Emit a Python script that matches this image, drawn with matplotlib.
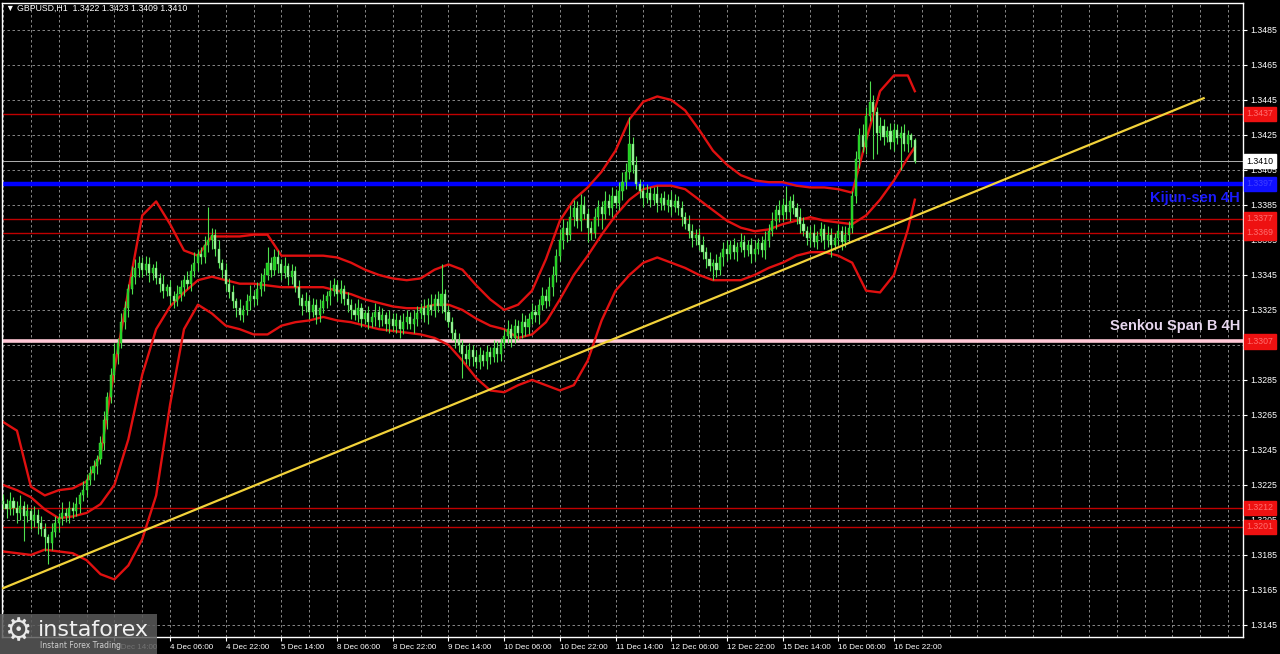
import matplotlib.pyplot as plt
from matplotlib.patches import Rectangle

# GBPUSD H1 candles. Prices are in pips above 1.3000 (214 -> 1.3214)
first_open = 216
closes = [214, 211, 216, 212, 209, 213, 207, 210, 205, 208, 203,
          200, 195, 192, 198,
          203, 206, 209, 207, 212, 210,
          214, 219, 222, 228, 232, 236, 240, 249, 262,
          275, 288, 300, 306, 318, 326, 337, 344,
          349, 352, 348, 351, 346, 349, 343,
          340, 336, 338, 333, 330, 334,
          338, 342, 340, 347, 352, 357, 355, 362, 365, 368,
          360, 352, 348, 340, 335, 330, 326, 322,
          325, 330, 333, 331, 337, 341,
          345, 352, 348, 355, 351, 346, 350, 344, 347,
          338, 332, 327, 330, 324, 328, 322, 326, 330,
          333, 336, 339, 334, 337, 331,
          328, 325, 322, 326, 320, 323, 318, 321, 324, 319, 322, 317, 320,
          316, 319, 314, 318, 321, 317, 320, 323, 326,
          322, 328, 325, 331, 327, 334, 324,
          318, 312, 308, 305,
          300, 297, 302, 298, 295, 299, 296, 301, 298, 303, 300, 306,
          310, 314, 309, 316, 312, 318, 315, 320,
          324, 322, 328, 333, 330, 338, 345,
          356, 365, 372, 368, 378, 383,
          376, 385, 380, 372, 369, 378, 384,
          380, 387, 383, 390, 386, 393, 398, 404,
          420, 408, 397, 393, 389,
          392, 388, 391, 386, 389, 385, 388, 384, 387, 383,
          378, 374, 370, 366, 368, 362,
          358, 354, 350, 352, 348, 355,
          360, 357, 362, 358, 361, 364, 359, 362, 357, 360, 363, 359, 365, 370,
          376, 382, 379, 385, 381, 387, 383, 378, 374,
          370, 366, 369, 364, 367, 371, 365, 368, 362, 366, 370, 364, 368, 372,
          390, 411, 425, 418, 436, 444, 438, 426,
          430, 424, 427, 421, 428, 423, 426, 420, 425, 422, 410]

upper_wick = [4, 3, 5, 2, 4, 6, 3, 4, 2, 5, 3, 4, 3, 2, 5, 4, 3, 6, 3, 4,
              3, 4, 2, 5, 3, 4, 3, 2, 4, 5, 3, 4, 6, 3, 5, 4, 3, 6, 5, 4,
              3, 5, 4, 2, 4, 3, 5, 2, 4, 3, 5, 4, 3, 5, 4, 6, 3, 4, 5, 19,
              4, 3, 5, 2, 4, 3, 4, 2, 5, 3, 4, 6, 3, 4, 5, 4, 9, 3, 5, 4,
              3, 5, 2, 4, 3, 4, 2, 5, 3, 4, 3, 5, 4, 3, 6, 4, 3, 5, 2, 4,
              3, 4, 5, 3, 2, 4, 3, 5, 3, 4, 2, 5, 3, 4, 3, 5, 4, 3, 5, 4,
              3, 5, 4, 6, 3, 5, 17, 3, 4, 3, 2, 4, 3, 5, 4, 3, 4, 5, 3, 4,
              3, 5, 4, 3, 4, 5, 3, 4, 3, 5, 4, 3, 5, 4, 3, 5, 4, 6, 5, 4,
              6, 5, 4, 7, 5, 4, 6, 5, 3, 4, 5, 4, 3, 6, 4, 5, 4, 5, 6, 5,
              15, 4, 5, 3, 4, 5, 3, 4, 5, 3, 4, 3, 5, 4, 3, 4, 3, 5, 4, 3,
              4, 5, 3, 4, 2, 5, 3, 4, 5, 3, 4, 3, 5, 4, 3, 4, 5, 3, 4, 5,
              4, 5, 3, 6, 4, 11, 3, 4, 3, 5, 4, 3, 4, 5, 3, 4, 3, 5, 4, 3,
              4, 3, 5, 4, 3, 5, 4, 6, 5, 12, 4, 3, 5, 4, 3, 5, 4, 3, 4, 5, 3, 1, 1]

lower_wick = [3, 5, 3, 4, 6, 4, 14, 3, 5, 4, 6, 4, 8, 12, 4, 3, 5, 4, 3, 4,
              4, 3, 5, 3, 4, 3, 4, 5, 3, 4, 5, 3, 4, 6, 3, 4, 5, 3, 4, 5,
              4, 3, 5, 4, 3, 5, 4, 3, 5, 4, 3, 4, 5, 3, 4, 3, 5, 4, 3, 4,
              5, 4, 3, 5, 4, 3, 4, 5, 3, 4, 3, 5, 4, 3, 4, 5, 3, 4, 3, 5,
              4, 3, 5, 4, 3, 4, 5, 3, 4, 3, 5, 4, 3, 4, 5, 3, 4, 5, 3, 4,
              5, 3, 4, 5, 3, 4, 3, 5, 4, 3, 4, 5, 3, 4, 5, 3, 4, 3, 5, 4,
              3, 4, 5, 3, 4, 3, 4, 5, 3, 4, 5, 4, 14, 3, 4, 5, 3, 4, 3, 5,
              4, 3, 5, 4, 3, 4, 5, 3, 4, 3, 5, 4, 3, 4, 5, 3, 4, 3, 5, 4,
              3, 5, 4, 3, 5, 4, 6, 3, 8, 4, 3, 5, 9, 3, 4, 5, 3, 4, 5, 4,
              4, 5, 3, 4, 5, 3, 4, 3, 5, 4, 3, 4, 5, 3, 4, 5, 3, 4, 5, 4,
              3, 4, 5, 3, 8, 4, 3, 5, 4, 3, 4, 5, 3, 4, 3, 5, 4, 3, 4, 5,
              4, 3, 5, 4, 3, 4, 5, 3, 4, 5, 3, 4, 5, 3, 4, 3, 5, 4, 7, 3,
              4, 5, 3, 4, 3, 4, 5, 3, 4, 3, 27, 12, 4, 5, 3, 4, 5, 3, 18, 4, 5, 4, 1]

# red bands every 4 bars (pips above 1.3000)
band_bars = [0, 4, 8, 12, 16, 20, 24, 28, 32, 36, 40, 44, 48, 52, 56, 60, 64, 68, 72, 76,
             80, 84, 88, 92, 96, 100, 104, 108, 112, 116, 120, 124, 128, 132, 136, 140,
             144, 148, 152, 156, 160, 164, 168, 172, 176, 180, 184, 188, 192, 196, 200,
             204, 208, 212, 216, 220, 224, 228, 232, 236, 240, 244, 248, 252, 256, 260, 262]
band_upper = [261, 256, 224, 219, 222, 223, 227, 242, 291, 336, 379, 387, 374, 359, 356, 367, 367, 367, 368, 368,
              356, 356, 356, 356, 355, 352, 348, 345, 343, 342, 343, 348, 351, 348, 339, 331,
              325, 328, 336, 354, 376, 388, 395, 404, 416, 434, 444, 447, 445, 439, 428,
              416, 408, 402, 399, 398, 398, 396, 395, 395, 394, 392, 422, 450, 459, 459, 450]
band_middle = [225, 222, 218, 211, 206, 207, 209, 214, 225, 251, 288, 314, 327, 335, 342, 344, 342, 340, 340, 339,
               338, 338, 338, 338, 336, 334, 331, 329, 327, 326, 326, 328, 328, 325, 320, 316,
               314, 309, 311, 318, 331, 345, 356, 368, 379, 388, 394, 396, 396, 394, 388,
               382, 376, 372, 370, 371, 374, 376, 378, 376, 375, 374, 379, 388, 399, 412, 418]
band_lower = [187, 186, 185, 188, 187, 186, 182, 174, 171, 179, 194, 219, 271, 314, 328, 323, 316, 314, 311, 311,
              316, 318, 319, 321, 319, 318, 316, 314, 313, 312, 311, 309, 305, 296, 286, 279,
              278, 282, 285, 282, 279, 282, 296, 319, 336, 345, 352, 355, 352, 349, 345,
              342, 342, 342, 345, 349, 352, 356, 358, 358, 356, 352, 336, 335, 345, 371, 388]

trend_bars = [0, 345]
trend_prices = [1.3166, 1.3446]

red_levels = [1.3437, 1.3377, 1.3369, 1.3212, 1.3201]
kijun = 1.3397
senkou_b = 1.3307
last_price = 1.3410

y_ticks = [1.3145, 1.3165, 1.3185, 1.3205, 1.3225, 1.3245, 1.3265, 1.3285, 1.3305,
           1.3325, 1.3345, 1.3365, 1.3385, 1.3405, 1.3425, 1.3445, 1.3465, 1.3485]
# labels every 16 bars; the first ones sit under the logo
x_tick_bars = [32, 48, 64, 80, 96, 112, 128, 144, 160, 176, 192, 208, 224, 240, 256]
x_tick_labels = ['3 Dec 14:00', '4 Dec 06:00', '4 Dec 22:00',
                 '5 Dec 14:00', '8 Dec 06:00', '8 Dec 22:00', '9 Dec 14:00', '10 Dec 06:00',
                 '10 Dec 22:00', '11 Dec 14:00', '12 Dec 06:00', '12 Dec 22:00', '15 Dec 14:00',
                 '16 Dec 06:00', '16 Dec 22:00']
grid_bars = [8 * k for k in range(45)]


def px(p):
    return 1.3 + p / 10000.0


fig = plt.figure(figsize=(12.8, 6.54), dpi=100, facecolor='black')
ax = fig.add_axes([2 / 1280, 17 / 654, 1241 / 1280, 634 / 654])
ax.set_facecolor('black')

# grid
for b in grid_bars:
    ax.axvline(b, color='#9c9c9c', lw=0.6, ls=(0, (3, 3)), zorder=0)
for t in y_ticks:
    ax.axhline(t, color='#9c9c9c', lw=0.6, ls=(0, (3, 3)), zorder=0)

# horizontal levels
for lvl in red_levels:
    ax.axhline(lvl, color='#c00000', lw=1.0, zorder=1)
ax.axhline(last_price, color='#b0b0b0', lw=0.7, zorder=1)
ax.axhline(kijun, color='#0000ff', lw=3.2, zorder=1)
ax.axhline(senkou_b, color='#ffc8d6', lw=2.6, zorder=1)

# bands
ax.plot(band_bars, [px(v) for v in band_upper], color='#e01010', lw=1.7, zorder=2)
ax.plot(band_bars, [px(v) for v in band_middle], color='#e01010', lw=1.7, zorder=2)
ax.plot(band_bars, [px(v) for v in band_lower], color='#e01010', lw=1.7, zorder=2)

# candles
opens = [first_open] + closes[:-1]
for i in range(len(closes)):
    o = opens[i]
    c = closes[i]
    hi = max(o, c) + upper_wick[i]
    lo = min(o, c) - lower_wick[i]
    ax.vlines(i, px(lo), px(hi), color='#4fe04f', lw=0.8, zorder=3)
    body = max(abs(c - o), 0.4)
    col = '#1fcf1f' if c >= o else '#a8f5a8'
    ax.bar(i, body / 10000.0, bottom=px(min(o, c)), width=0.6, color=col,
           edgecolor='#4fe04f', linewidth=0.3, zorder=4)

# trend line
ax.plot(trend_bars, trend_prices, color='#f2d23a', lw=1.6, zorder=5)

ax.set_xlim(-0.3, 356.3)
ax.set_ylim(1.31381, 1.35004)

for s in ax.spines.values():
    s.set_color('white')
    s.set_linewidth(1.0)

# 1.3305 is hidden behind the Senkou Span B price tag on the original
ax.yaxis.tick_right()
ax.set_yticks(y_ticks)
ax.set_yticklabels(['' if t == 1.3305 else '%.4f' % t for t in y_ticks], family='Liberation Sans')
ax.set_xticks(x_tick_bars)
ax.set_xticklabels(x_tick_labels, ha='left', family='Liberation Sans')
ax.tick_params(axis='y', colors='white', labelsize=6.3, length=3, pad=2)
ax.tick_params(axis='x', colors='white', labelsize=5.8, length=3, pad=2)


def tag(price, text, face, tc):
    ax.annotate(text, xy=(1.0, price), xycoords=('axes fraction', 'data'),
                xytext=(2.5, 0), textcoords='offset points', ha='left', va='center',
                fontsize=6.3, family='Liberation Sans', color=tc, zorder=6,
                annotation_clip=False,
                bbox=dict(boxstyle='square,pad=0.3', fc=face, ec=face))


for lvl in red_levels:
    tag(lvl, '%.4f' % lvl, '#ee1111', '#ff7070')
tag(senkou_b, '%.4f' % senkou_b, '#ee1111', '#ff7070')
tag(kijun, '%.4f' % kijun, '#1010ff', '#4040ff')
tag(last_price, '%.4f' % last_price, 'white', 'black')

ax.text(355.5, 1.3397 - 0.0004, 'Kijun-sen 4H', color='#1a1aff', fontsize=10.5,
        fontweight='bold', family='Liberation Sans', ha='right', va='top', zorder=6)
ax.text(355.5, 1.3307 + 0.0005, 'Senkou Span B 4H', color='#e6d6ee', fontsize=10.5,
        fontweight='bold', family='Liberation Sans', ha='right', va='bottom', zorder=6)

fig.text(6 / 1280, 1 - 8 / 654, '\u25bc GBPUSD,H1  1.3422 1.3423 1.3409 1.3410',
         color='white', fontsize=6.3, family='Liberation Sans', va='center', ha='left')

# logo
fig.patches.append(Rectangle((0, 0), 157 / 1280, 40 / 654, transform=fig.transFigure,
                             facecolor='#5a5a5a', alpha=0.85, zorder=10))
fig.text(4 / 1280, 22 / 654, '\u2699', color='#e8e8e8', fontsize=22, va='center',
         ha='left', zorder=11)
fig.text(38 / 1280, 24 / 654, 'instaforex', color='#f0f0f0', fontsize=16,
         va='center', ha='left', zorder=11)
fig.text(40 / 1280, 9 / 654, 'Instant Forex Trading', color='#d0d0d0', fontsize=5.5,
         va='center', ha='left', zorder=11)

fig.savefig('out.png', dpi=100, facecolor='black')
